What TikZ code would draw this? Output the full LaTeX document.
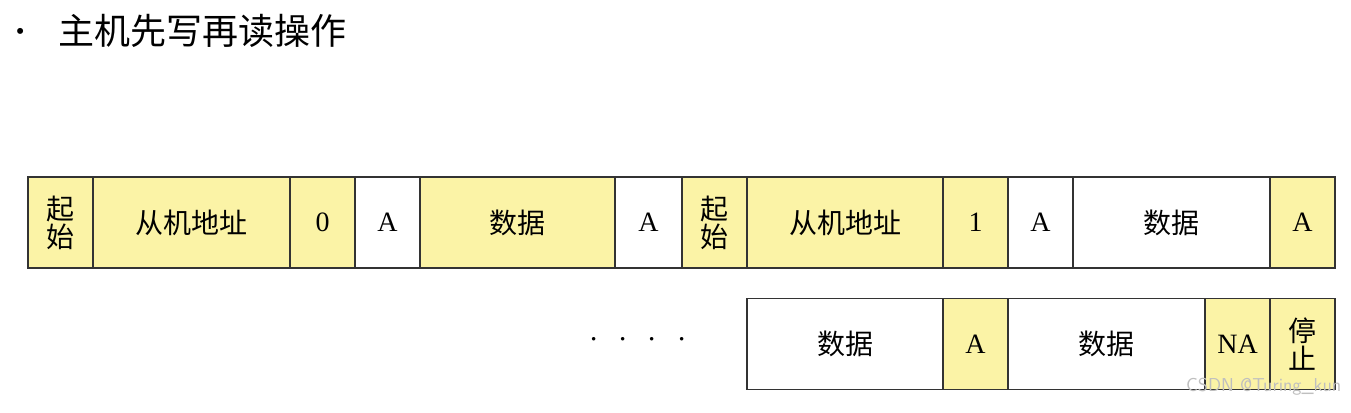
\documentclass[tikz,border=0pt]{standalone}
\usepackage{fontspec}
\newfontfamily\cjk{Noto Sans CJK SC}
\newfontfamily\lser{Liberation Serif}
\definecolor{yel}{HTML}{FBF3A6}
\begin{document}
\begin{tikzpicture}[x=0.75pt,y=-0.75pt,
  cell/.style={draw=black!80,line width=0.9pt,inner sep=0pt,minimum height=68.25pt,align=center,font=\fontsize{21}{24}\selectfont\cjk},
  ]
\useasboundingbox (0,0) rectangle (1351,413);
\node[anchor=west,font=\fontsize{20}{22}\selectfont] (bullet) at (6,33) {•};
\node[anchor=west,font=\fontsize{27}{30}\selectfont\cjk] (title) at (54,31) {主机先写再读操作};
\newcommand\myLat[1]{\lser\fontsize{21}{24}\selectfont #1}
\newcommand\mycell[6]{\node[cell,fill=#5,minimum width={(#2-#1)*0.75pt}] (#6) at ({(#1+#2)/2},#3) {#4};}
% row 1
\mycell{28}{93}{222.5}{起\\[-3pt]始}{yel}{a1}
\mycell{93}{290}{222.5}{从机地址}{yel}{a2}
\mycell{290}{355}{222.5}{\myLat{0}}{yel}{a3}
\mycell{355}{420}{222.5}{\myLat{A}}{white}{a4}
\mycell{420}{615}{222.5}{数据}{yel}{a5}
\mycell{615}{682}{222.5}{\myLat{A}}{white}{a6}
\mycell{682}{747}{222.5}{起\\[-3pt]始}{yel}{a7}
\mycell{747}{943}{222.5}{从机地址}{yel}{a8}
\mycell{943}{1008}{222.5}{\myLat{1}}{yel}{a9}
\mycell{1008}{1073}{222.5}{\myLat{A}}{white}{a10}
\mycell{1073}{1270}{222.5}{数据}{white}{a11}
\mycell{1270}{1335}{222.5}{\myLat{A}}{yel}{a12}
% row 2
\mycell{747}{943}{344}{数据}{white}{b1}
\mycell{943}{1008}{344}{\myLat{A}}{yel}{b2}
\mycell{1008}{1205}{344}{数据}{white}{b3}
\mycell{1205}{1270}{344}{\myLat{NA}}{yel}{b4}
\mycell{1270}{1335}{344}{停\\[-3pt]止}{yel}{b5}
\node[font=\fontsize{30}{30}\selectfont] (dots) at (638,340) {$\cdot$\hspace{15pt}$\cdot$\hspace{15pt}$\cdot$\hspace{15pt}$\cdot$};
\node[anchor=east,text=black!25,font=\fontsize{14}{14}\selectfont\sffamily] (wm) at (1346,387) {CSDN @Turing\_kun};
\end{tikzpicture}
\end{document}
